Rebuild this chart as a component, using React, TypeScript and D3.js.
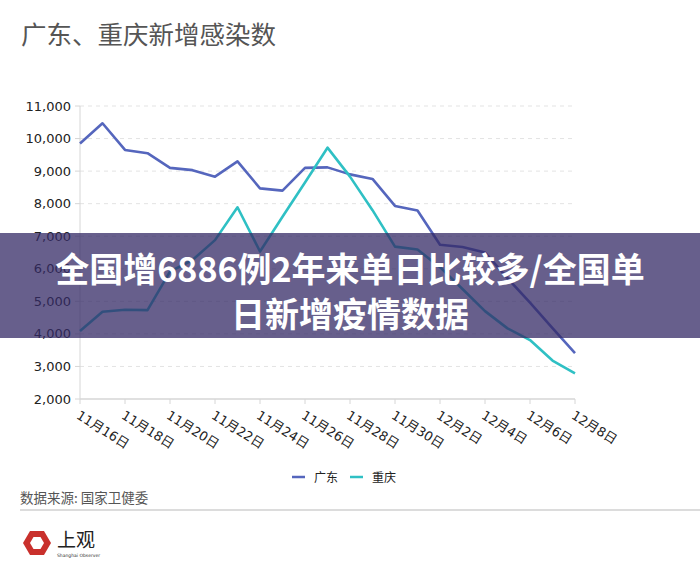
import React from "react";
import * as d3 from "d3";

const dates = [
  "11月16日", "11月17日", "11月18日", "11月19日", "11月20日", "11月21日", "11月22日", "11月23日",
  "11月24日", "11月25日", "11月26日", "11月27日", "11月28日", "11月29日", "11月30日", "12月1日",
  "12月2日", "12月3日", "12月4日", "12月5日", "12月6日", "12月7日", "12月8日",
];
const guangdong = [9850, 10470, 9650, 9550, 9100, 9030, 8830, 9300, 8470, 8400, 9100, 9115, 8900, 8760, 7930, 7790, 6740, 6670, 6500, 5710, 4960, 4180, 3410];
const chongqing = [4090, 4680, 4740, 4730, 5910, 6270, 6880, 7890, 6530, 7600, 8650, 9720, 8830, 7800, 6680, 6590, 6050, 5380, 4700, 4170, 3810, 3180, 2790];
const yTicks = [2000, 3000, 4000, 5000, 6000, 7000, 8000, 9000, 10000, 11000];
const seriesNames = ["广东", "重庆"];
const title = "广东、重庆新增感染数";
const source = "数据来源: 国家卫健委";
const bannerLines = ["全国增6886例2年来单日比较多/全国单", "日新增疫情数据"];

const COLORS = ["#5566bd", "#2fc0c4"];
const CJK = "'Noto Sans CJK SC', 'Noto Sans', sans-serif";
const NUM = "'DejaVu Sans', 'Noto Sans CJK SC', sans-serif";

export default function App() {
  const x = d3.scalePoint<string>().domain(dates).range([80, 575]);
  const y = d3.scaleLinear().domain([2000, 11000]).range([399, 106]);
  const line = d3
    .line<number>()
    .x((_, i) => x(dates[i]) as number)
    .y((d) => y(d));
  const series = [guangdong, chongqing];
  const fmt = d3.format(",");
  const labelDates = dates.filter((_, i) => i % 2 === 0);

  const hex = (cx: number, cy: number, r: number) =>
    d3.range(6).map((k) => {
      const a = (Math.PI / 3) * k;
      return [cx + r * Math.cos(a), cy + r * Math.sin(a)].join(",");
    }).join(" ");

  return (
    <svg
      width={700}
      height={574}
      style={{ position: "absolute", left: 0, top: 0, background: "#fff" }}
    >
      <rect width={700} height={574} fill="#fff" />
      <text x={21} y={44} fontSize={25.5} fill="#555" fontFamily={CJK}>
        {title}
      </text>

      {/* grid */}
      {yTicks.filter((t) => t > 2000).map((t) => (
        <line key={t} x1={80} x2={575} y1={y(t)} y2={y(t)} stroke="#e3e3e3" strokeDasharray="4,4" />
      ))}
      {/* y axis */}
      <line x1={80} x2={80} y1={106} y2={399} stroke="#d6d6d6" />
      {yTicks.map((t) => (
        <g key={t}>
          <line x1={75} x2={80} y1={y(t)} y2={y(t)} stroke="#d6d6d6" />
          <text x={71} y={y(t)} dy="0.35em" textAnchor="end" fontSize={13} fill="#222" fontFamily={NUM}>
            {fmt(t)}
          </text>
        </g>
      ))}
      {/* x axis */}
      <line x1={80} x2={575} y1={399} y2={399} stroke="#d6d6d6" strokeWidth={1.5} />
      {labelDates.map((d) => (
        <g key={d}>
          <line x1={x(d)} x2={x(d)} y1={399} y2={404} stroke="#d6d6d6" />
          <text
            transform={`translate(${(x(d) as number) + 1},${409}) rotate(32)`}
            dy="0.8em"
            fontSize={13}
            fill="#222"
            fontFamily={NUM}
          >
            {d}
          </text>
        </g>
      ))}

      {series.map((s, i) => (
        <path key={i} d={line(s) || ""} fill="none" stroke={COLORS[i]} strokeWidth={2.6} strokeLinejoin="round" />
      ))}

      {/* legend */}
      {seriesNames.map((n, i) => {
        const lx = 292 + i * 58;
        return (
          <g key={n}>
            <line x1={lx} x2={lx + 13} y1={477} y2={477} stroke={COLORS[i]} strokeWidth={2.5} />
            <text x={lx + 22} y={481.5} fontSize={12} fill="#222" fontFamily={CJK}>
              {n}
            </text>
          </g>
        );
      })}

      {/* source */}
      <text x={20} y={503} fontSize={13.5} fill="#555" fontFamily={CJK}>
        {source}
      </text>
      <line x1={20} x2={700} y1={510} y2={510} stroke="#dcdcdc" strokeWidth={2} />

      {/* logo */}
      <polygon points={hex(37, 543, 14)} fill="#c9302c" />
      <polygon points={hex(37, 543, 7)} fill="#fff" />
      <text x={57} y={547} fontSize={19} fill="#222" fontFamily={CJK}>
        上观
      </text>
      <text x={57} y={557} fontSize={4.5} fill="#333" fontFamily={NUM}>
        Shanghai Observer
      </text>

      {/* banner overlay */}
      <rect x={0} y={233} width={700} height={105} fill="rgba(52,42,102,0.75)" />
      {bannerLines.map((t, i) => (
        <text
          key={i}
          x={350}
          y={282 + i * 45}
          textAnchor="middle"
          fontSize={34}
          fontWeight="bold"
          fill="#fff"
          fontFamily={CJK}
        >
          {t}
        </text>
      ))}
    </svg>
  );
}
